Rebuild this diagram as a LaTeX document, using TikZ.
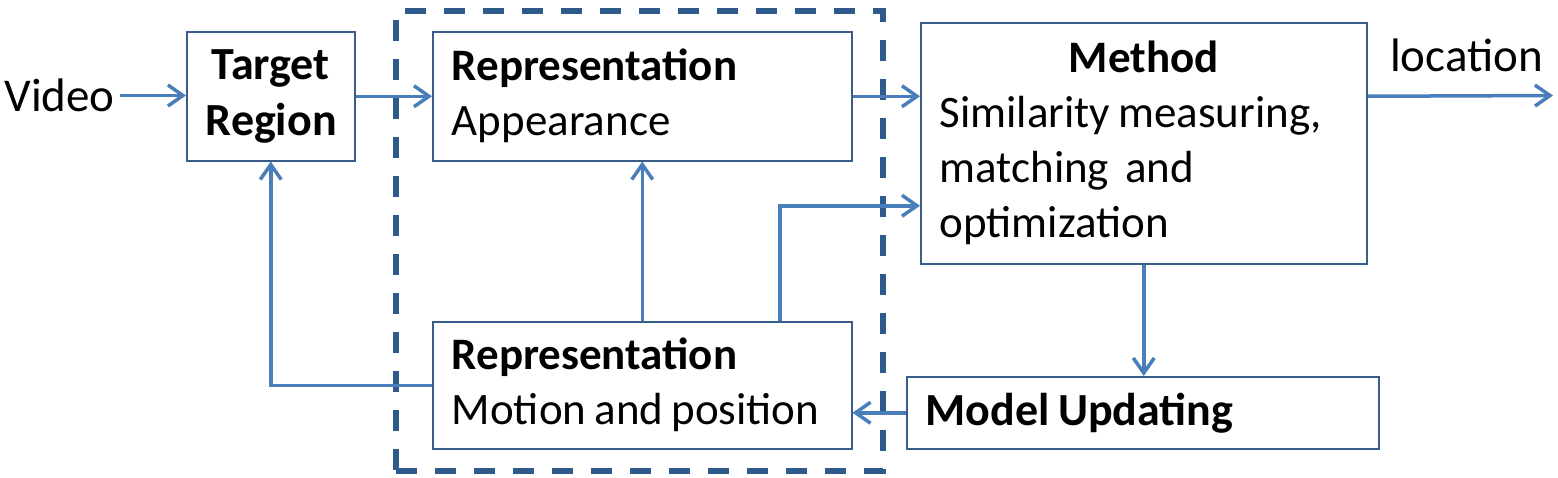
\documentclass[tikz,border=0pt]{standalone}
\usepackage{fontspec}
\setmainfont{Carlito}[WordSpace=0.8]
\usetikzlibrary{arrows.meta}

\definecolor{boxblue}{HTML}{385D8A}
\definecolor{arrblue}{HTML}{4A7EBB}
\definecolor{dashblue}{HTML}{2F5B8C}

\tikzset{
  blk/.style={draw=boxblue, line width=1.5pt, fill=white, anchor=north west,
    inner xsep=19pt, inner ysep=0pt, align=flush left, font=\fontsize{45}{55}\selectfont},
  lbl/.style={font=\fontsize{47}{55}\selectfont, inner sep=0pt},
  arr/.style={draw=arrblue, line width=3.5pt, -{Straight Barb[length=15pt,width=21pt]}},
  grp/.style={draw=dashblue, line width=5.5pt, dash pattern=on 21pt off 18pt,
    anchor=north west, inner sep=0pt}
}

\begin{document}
\begin{tikzpicture}[x=1pt, y=-1pt]
  \useasboundingbox (0,0) rectangle (1558,477);
  \node[grp, minimum width=487pt, minimum height=460pt] (grp) at (393,8) {};
  \node[blk, minimum width=168pt, minimum height=129pt, text width=130pt, align=flush center,
    font=\fontsize{46}{56}\selectfont\bfseries] (target) at (186,31) {Target\\Region};
  \node[blk, minimum width=419pt, minimum height=129pt, text width=381pt] (app) at (432,31)
    {\textbf{Representation}\\Appearance};
  \node[blk, minimum width=419pt, minimum height=127pt, text width=381pt] (mot) at (432,321)
    {\textbf{Representation}\\Motion and position};
  \node[blk, minimum width=446pt, minimum height=241pt, text width=408pt] (meth) at (920,22)
    {\hfill\textbf{Method}\hfill\mbox{}\\Similarity measuring,\\matching\ \ and\\optimization};
  \node[blk, minimum width=472pt, minimum height=72pt, text width=434pt,
    font=\fontsize{46}{55}\selectfont\bfseries] (upd) at (906,376) {Model Updating};
  \node[lbl, anchor=east, inner sep=5pt] (video) at (120,95.5) {Video};
  \node[lbl, anchor=base west] (loc) at (1390,71) {location};
  \coordinate (out) at (1553,95.5);

  \draw[arr] (video.east) -- (video.east -| target.west);
  \draw[arr] (target.east) -- (app.west);
  \draw[arr] (app.east) -- (app.east -| meth.west);
  \draw[arr] (meth.east |- app.east) -- (out);
  \draw[arr] (mot) -- (app);
  \draw[arr] ([xshift=137.5pt]mot.north) |- ([yshift=-62.5pt]meth.west);
  \draw[arr] (meth.south) -- (meth.south |- upd.north);
  \draw[arr] (upd.west) -- (upd.west -| mot.east);
  \draw[arr] (mot.west) -| (target.south);
\end{tikzpicture}
\end{document}
